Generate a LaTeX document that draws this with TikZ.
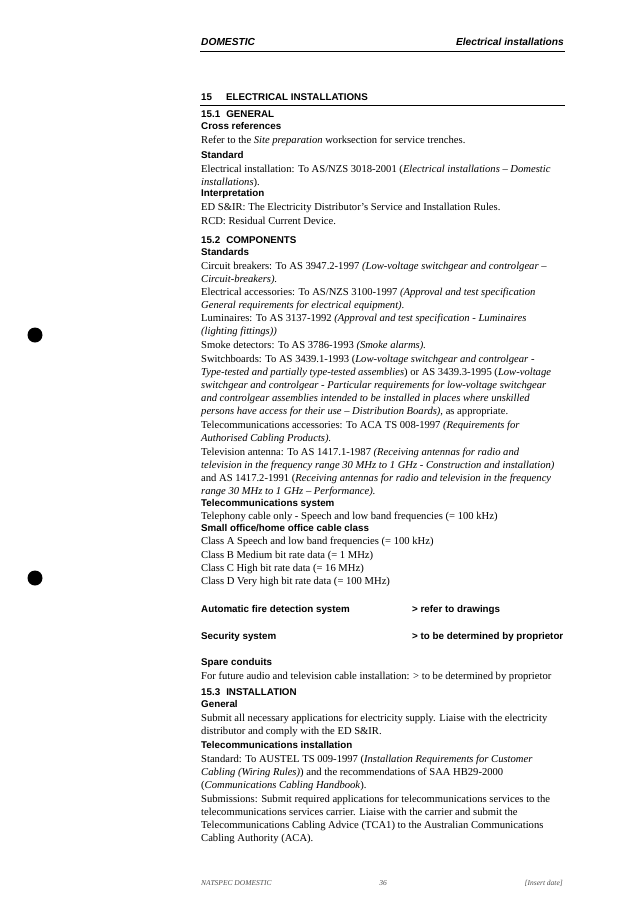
\documentclass[tikz,border=0pt]{standalone}
\usepackage{fontspec}
\setmainfont{Liberation Serif}
\setsansfont{Liberation Sans}
\usepackage{tikz}
\usetikzlibrary{positioning}
\tikzset{
    body/.style={anchor=north west, yshift=7.4pt, inner sep=0pt, align=left,
        font=\fontsize{10.6}{13}\selectfont},
    head/.style={anchor=base west, inner sep=0pt,
        font=\sffamily\bfseries\fontsize{9.8}{13}\selectfont},
    pagehead/.style={anchor=base west, inner sep=0pt,
        font=\sffamily\bfseries\itshape\fontsize{10.2}{13}\selectfont},
    foot/.style={anchor=base, inner sep=0pt,
        font=\itshape\fontsize{7.5}{9}\selectfont, text=black!70},
    hole/.style={circle, fill=black, minimum size=15pt, inner sep=0pt},
}
\begin{document}
\begin{tikzpicture}[x=1pt, y=-1pt]
    \useasboundingbox (0,0) rectangle (637,913);
    % page head
    \node[pagehead] (dom) at (201,45) {DOMESTIC};
    \node[pagehead, anchor=base east] (elh) at (564,45) {Electrical installations};
    \draw[line width=0.6pt] (200,51) -- (565,51);
    \node[head] (s15) at (201,100) {15\hspace{14pt}ELECTRICAL INSTALLATIONS};
    \draw[line width=0.4pt] (200,105) -- (565,105);
    % 15.1
    \node[head] (s151) at (201,117) {15.1\hspace{6pt}GENERAL};
    \node[head] (xref) at (201,129) {Cross references};
    \node[body] (refer) at (201,143) {Refer to the \textit{Site preparation} worksection for service trenches.};
    \node[head] (std) at (201,158) {Standard};
    \node[body] (elinst) at (201,172) {Electrical installation: To AS/NZS 3018-2001 (\textit{Electrical installations -- Domestic}\\\textit{installations}).};
    \node[head] (interp) at (201,196) {Interpretation};
    \node[body] (edsir) at (201,210) {ED S\&IR: The Electricity Distributor's Service and Installation Rules.};
    \node[body] (rcd) at (201,224) {RCD: Residual Current Device.};
    % 15.2
    \node[head] (s152) at (201,243) {15.2\hspace{6pt}COMPONENTS};
    \node[head] (stds) at (201,255) {Standards};
    \node[body] (cb) at (201,269) {Circuit breakers: To AS 3947.2-1997 \textit{(Low-voltage switchgear and controlgear --}\\\textit{Circuit-breakers).}};
    \node[body] (acc) at (201,295) {Electrical accessories: To AS/NZS 3100-1997 \textit{(Approval and test specification}\\\textit{General requirements for electrical equipment).}};
    \node[body] (lum) at (201,321) {Luminaires: To AS 3137-1992 \textit{(Approval and test specification - Luminaires}\\\textit{(lighting fittings))}};
    \node[body] (smoke) at (201,348) {Smoke detectors: To AS 3786-1993 \textit{(Smoke alarms).}};
    \node[body] (swb) at (201,362) {Switchboards: To AS 3439.1-1993 (\textit{Low-voltage switchgear and controlgear -}\\\textit{Type-tested and partially type-tested assemblies}) or AS 3439.3-1995 (\textit{Low-voltage}\\\textit{switchgear and controlgear - Particular requirements for low-voltage switchgear}\\\textit{and controlgear assemblies intended to be installed in places where unskilled}\\\textit{persons have access for their use -- Distribution Boards)}, as appropriate.};
    \node[body] (tcacc) at (201,428) {Telecommunications accessories: To ACA TS 008-1997 \textit{(Requirements for}\\\textit{Authorised Cabling Products).}};
    \node[body] (tv) at (201,455) {Television antenna: To AS 1417.1-1987 \textit{(Receiving antennas for radio and}\\\textit{television in the frequency range 30 MHz to 1 GHz - Construction and installation)}\\and AS 1417.2-1991 (\textit{Receiving antennas for radio and television in the frequency}\\\textit{range 30 MHz to 1 GHz -- Performance).}};
    \node[head] (tcsys) at (201,506) {Telecommunications system};
    \node[body] (tel) at (201,519) {Telephony cable only - Speech and low band frequencies (= 100 kHz)};
    \node[head] (soho) at (201,531) {Small office/home office cable class};
    \node[body] (clsa) at (201,544) {Class A Speech and low band frequencies (= 100 kHz)};
    \node[body] (clsb) at (201,558) {Class B Medium bit rate data (= 1 MHz)};
    \node[body] (clsc) at (201,571) {Class C High bit rate data (= 16 MHz)};
    \node[body] (clsd) at (201,584) {Class D Very high bit rate data (= 100 MHz)};
    \node[head] (fire) at (201,612) {Automatic fire detection system};
    \node[head] (firer) at (412,612) {> refer to drawings};
    \node[head] (sec) at (201,639) {Security system};
    \node[head] (secr) at (412,639) {> to be determined by proprietor};
    \node[head] (spare) at (201,665) {Spare conduits};
    \node[body] (future) at (201,679) {For future audio and television cable installation: > to be determined by proprietor};
    % 15.3
    \node[head] (s153) at (201,695) {15.3\hspace{6pt}INSTALLATION};
    \node[head] (gen) at (201,707) {General};
    \node[body] (submit) at (201,721) {Submit all necessary applications for electricity supply. Liaise with the electricity\\distributor and comply with the ED S\&IR.};
    \node[head] (tcinst) at (201,748) {Telecommunications installation};
    \node[body] (austel) at (201,762) {Standard: To AUSTEL TS 009-1997 (\textit{Installation Requirements for Customer}\\\textit{Cabling (Wiring Rules)}) and the recommendations of SAA HB29-2000\\(\textit{Communications Cabling Handbook}).};
    \node[body] (subm) at (201,802) {Submissions: Submit required applications for telecommunications services to the\\telecommunications services carrier. Liaise with the carrier and submit the\\Telecommunications Cabling Advice (TCA1) to the Australian Communications\\Cabling Authority (ACA).};
    % page foot
    \node[foot, anchor=base west] (natspec) at (201,885) {NATSPEC DOMESTIC};
    \node[foot] (pg) at (383,885) {36};
    \node[foot, anchor=base east] (date) at (563,885) {[Insert date]};
    % binder holes
    \node[hole] (hole1) at (35,335) {};
    \node[hole] (hole2) at (35,578) {};
\end{tikzpicture}
\end{document}
